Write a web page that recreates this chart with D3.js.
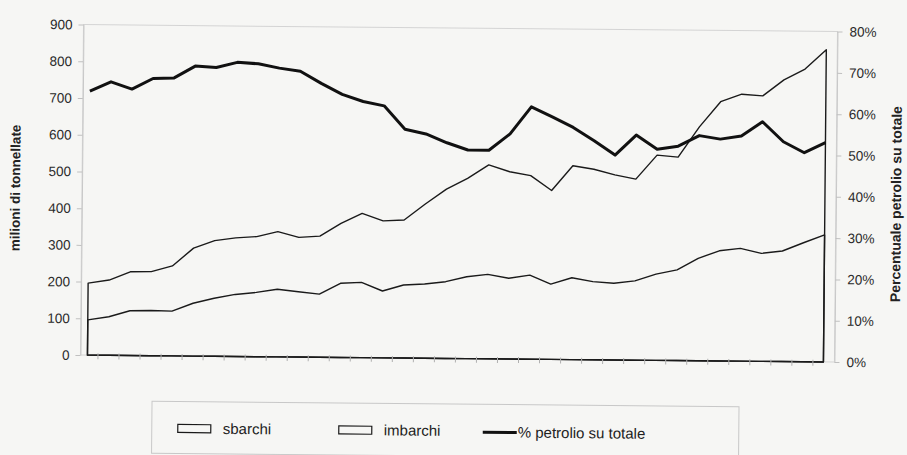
<!DOCTYPE html>
<html>
<head>
<meta charset="utf-8">
<script src="https://cdn.jsdelivr.net/npm/d3@7"></script>
<style>
  body { margin: 0; background: #f6f6f4; }
  svg { display: block; font-family: "Liberation Sans", Arial, sans-serif; }
</style>
</head>
<body>
<div id="chart"></div>
<script>
/* Data */
const sbarchi = [196, 205, 228, 229, 245, 294, 315, 323, 327, 341, 326, 330, 365, 393, 373, 376, 420, 461,
                 491, 528, 510, 500, 460, 528, 519, 504, 493, 559, 554, 637, 706, 727, 723, 767, 797, 850];
const imbarchi = [96, 105, 122, 123, 122, 144, 158, 169, 175, 184, 178, 172, 202, 205, 182, 199, 202, 209,
                  223, 230, 220, 229, 205, 223, 213, 209, 216, 235, 247, 279, 300, 307, 294, 301, 324, 346];
const petrolio = [0.639, 0.662, 0.645, 0.671, 0.673, 0.702, 0.699, 0.712, 0.709, 0.699, 0.692, 0.663,
                  0.637, 0.620, 0.610, 0.554, 0.543, 0.522, 0.505, 0.505, 0.545, 0.611, 0.587, 0.562,
                  0.530, 0.496, 0.545, 0.511, 0.519, 0.545, 0.537, 0.545, 0.580, 0.532, 0.506, 0.531];
const categories = sbarchi.map((d, i) => i);
const leftTicks = [0, 100, 200, 300, 400, 500, 600, 700, 800, 900];
const rightTicks = [0, 0.1, 0.2, 0.3, 0.4, 0.5, 0.6, 0.7, 0.8];
const legendLabels = ["sbarchi", "imbarchi", "% petrolio su totale"];

/* Dimensions */
const width = 907, height = 455;
const plot = { left: 82, right: 836, top: 28, bottom: 358.5 };
const bg = "#f6f6f4";

const svg = d3.select("#chart").append("svg")
  .attr("width", width)
  .attr("height", height);

svg.append("rect").attr("width", width).attr("height", height).attr("fill", bg);

// the scan is slightly tilted
const g = svg.append("g").attr("transform", "rotate(0.53, 453, 190)");

/* Scales */
const x = d3.scalePoint().domain(categories).range([89, 825]);
const yLeft = d3.scaleLinear().domain([0, 900]).range([plot.bottom, plot.top]);
const yRight = d3.scaleLinear().domain([0, 0.8]).range([plot.bottom, plot.top]);

// plot area border
g.append("rect")
  .attr("x", plot.left).attr("y", plot.top)
  .attr("width", plot.right - plot.left).attr("height", plot.bottom - plot.top)
  .attr("fill", "none").attr("stroke", "#d4d4d4").attr("stroke-width", 1);

/* Areas (white, outlined) */
const area = d3.area()
  .x((d, i) => x(i))
  .y0(yLeft(0))
  .y1(d => yLeft(d));

[sbarchi, imbarchi].forEach(series => {
  g.append("path")
    .datum(series)
    .attr("d", area)
    .attr("fill", "none")
    .attr("stroke", "#1a1a1a")
    .attr("stroke-width", 1.4)
    .attr("stroke-linejoin", "round");
});

/* Percentage line */
const line = d3.line()
  .x((d, i) => x(i))
  .y(d => yRight(d));

g.append("path")
  .datum(petrolio)
  .attr("d", line)
  .attr("fill", "none")
  .attr("stroke", "#111")
  .attr("stroke-width", 3)
  .attr("stroke-linejoin", "round");

/* Axes */
const leftAxis = g.append("g")
  .attr("transform", `translate(${plot.left},0)`)
  .call(d3.axisLeft(yLeft).tickValues(leftTicks).tickSize(5).tickPadding(6).tickSizeOuter(0));

const rightAxis = g.append("g")
  .attr("transform", `translate(${plot.right},0)`)
  .call(d3.axisRight(yRight).tickValues(rightTicks).tickFormat(d3.format(".0%"))
    .tickSize(5).tickPadding(7).tickSizeOuter(0));

[leftAxis, rightAxis].forEach(a => {
  a.select(".domain").attr("stroke", "#c8c8c8");
  a.selectAll(".tick line").attr("stroke", "#c0c0c0");
  a.selectAll(".tick text")
    .attr("fill", "#2a2a2a")
    .style("font-size", "13.5px")
    .style("font-family", "'Liberation Sans', Arial, sans-serif");
});

// category ticks between points
const tickPos = categories.slice(1).map(i => (x(i - 1) + x(i)) / 2);
g.append("g")
  .selectAll("line")
  .data(tickPos)
  .enter()
  .append("line")
  .attr("x1", d => d).attr("x2", d => d)
  .attr("y1", plot.bottom - 2).attr("y2", plot.bottom + 4)
  .attr("stroke", "#b0b0b0");

/* Axis titles */
g.append("text")
  .attr("transform", `translate(20,192) rotate(-90)`)
  .attr("text-anchor", "middle")
  .style("font-size", "13.5px")
  .style("font-weight", "bold")
  .attr("fill", "#222")
  .text("milioni di tonnellate");

g.append("text")
  .attr("transform", `translate(901,200) rotate(-90)`)
  .attr("text-anchor", "middle")
  .style("font-size", "14px")
  .style("font-weight", "bold")
  .attr("fill", "#222")
  .text("Percentuale petrolio su totale");

/* Legend */
const legend = g.append("g");
legend.append("rect")
  .attr("x", 154).attr("y", 404)
  .attr("width", 587).attr("height", 52)
  .attr("fill", "none").attr("stroke", "#c8c8c8");

const items = [
  { x: 180, label: legendLabels[0], kind: "rect" },
  { x: 341, label: legendLabels[1], kind: "rect" },
  { x: 485, label: legendLabels[2], kind: "line" },
];

items.forEach(it => {
  if (it.kind === "rect") {
    legend.append("rect")
      .attr("x", it.x).attr("y", 427)
      .attr("width", 33).attr("height", 8)
      .attr("fill", bg).attr("stroke", "#1a1a1a").attr("stroke-width", 1.2);
    legend.append("text")
      .attr("x", it.x + 45).attr("y", 436)
      .style("font-size", "15px").attr("fill", "#222")
      .text(it.label);
  } else {
    legend.append("line")
      .attr("x1", it.x).attr("x2", it.x + 34)
      .attr("y1", 432).attr("y2", 432)
      .attr("stroke", "#111").attr("stroke-width", 3);
    legend.append("text")
      .attr("x", it.x + 35).attr("y", 437)
      .style("font-size", "15px").attr("fill", "#222")
      .text(it.label);
  }
});
</script>
</body>
</html>
